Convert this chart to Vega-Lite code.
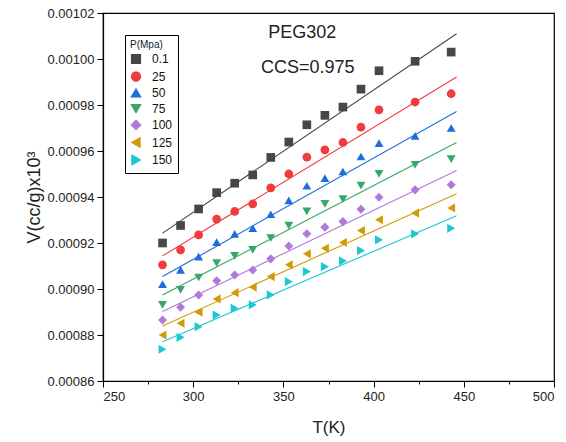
{
  "$schema": "https://vega.github.io/schema/vega-lite/v6.json",
  "width": 451,
  "height": 368,
  "autosize": {"type": "none"},
  "padding": {"left": 103, "top": 13, "right": 12, "bottom": 61},
  "background": "white",
  "config": {
    "view": {"stroke": "black", "strokeWidth": 1.2},
    "font": "Liberation Sans",
    "axis": {"labelFont": "Liberation Sans", "titleFont": "Liberation Sans", "titleFontWeight": "normal", "domainColor": "black", "tickColor": "black", "labelColor": "#222", "titleColor": "#222", "grid": false, "domainWidth": 1.2, "tickWidth": 1},
    "legend": {
      "labelFont": "Liberation Sans", "titleFont": "Liberation Sans",
      "titleFontSize": 10, "titleFontWeight": "normal", "titleColor": "#123", "titlePadding": 3,
      "labelFontSize": 12, "labelColor": "#111", "symbolSize": 65, "labelOffset": 10,
      "strokeColor": "black", "fillColor": "white", "padding": 5, "rowPadding": 1.5, "symbolOpacity": 1
    }
  },
  "datasets": {
    "pts": [
      {"T": 283, "V": 0.000920, "P": "0.1"}, {"T": 293, "V": 0.0009276, "P": "0.1"}, {"T": 303, "V": 0.0009348, "P": "0.1"}, {"T": 313, "V": 0.0009419, "P": "0.1"}, {"T": 323, "V": 0.000946, "P": "0.1"}, {"T": 333, "V": 0.0009496, "P": "0.1"}, {"T": 343, "V": 0.0009572, "P": "0.1"}, {"T": 353, "V": 0.0009639, "P": "0.1"}, {"T": 363, "V": 0.0009714, "P": "0.1"}, {"T": 373, "V": 0.0009755, "P": "0.1"}, {"T": 383, "V": 0.0009791, "P": "0.1"}, {"T": 393, "V": 0.0009869, "P": "0.1"}, {"T": 403, "V": 0.0009949, "P": "0.1"}, {"T": 423, "V": 0.000999, "P": "0.1"}, {"T": 443, "V": 0.001003, "P": "0.1"},
      {"T": 283, "V": 0.0009105, "P": "25"}, {"T": 293, "V": 0.000917, "P": "25"}, {"T": 303, "V": 0.0009235, "P": "25"}, {"T": 313, "V": 0.0009304, "P": "25"}, {"T": 323, "V": 0.0009337, "P": "25"}, {"T": 333, "V": 0.000937, "P": "25"}, {"T": 343, "V": 0.000944, "P": "25"}, {"T": 353, "V": 0.00095, "P": "25"}, {"T": 363, "V": 0.0009573, "P": "25"}, {"T": 373, "V": 0.0009605, "P": "25"}, {"T": 383, "V": 0.0009637, "P": "25"}, {"T": 393, "V": 0.0009704, "P": "25"}, {"T": 403, "V": 0.0009779, "P": "25"}, {"T": 423, "V": 0.0009813, "P": "25"}, {"T": 443, "V": 0.0009849, "P": "25"},
      {"T": 283, "V": 0.0009021, "P": "50"}, {"T": 293, "V": 0.0009083, "P": "50"}, {"T": 303, "V": 0.0009141, "P": "50"}, {"T": 313, "V": 0.0009204, "P": "50"}, {"T": 323, "V": 0.000924, "P": "50"}, {"T": 333, "V": 0.0009264, "P": "50"}, {"T": 343, "V": 0.0009325, "P": "50"}, {"T": 353, "V": 0.0009385, "P": "50"}, {"T": 363, "V": 0.0009449, "P": "50"}, {"T": 373, "V": 0.0009482, "P": "50"}, {"T": 383, "V": 0.0009511, "P": "50"}, {"T": 393, "V": 0.0009576, "P": "50"}, {"T": 403, "V": 0.0009634, "P": "50"}, {"T": 423, "V": 0.0009666, "P": "50"}, {"T": 443, "V": 0.00097, "P": "50"},
      {"T": 283, "V": 0.0008931, "P": "75"}, {"T": 293, "V": 0.0008996, "P": "75"}, {"T": 303, "V": 0.000905, "P": "75"}, {"T": 313, "V": 0.0009112, "P": "75"}, {"T": 323, "V": 0.0009144, "P": "75"}, {"T": 333, "V": 0.000917, "P": "75"}, {"T": 343, "V": 0.0009221, "P": "75"}, {"T": 353, "V": 0.0009276, "P": "75"}, {"T": 363, "V": 0.0009337, "P": "75"}, {"T": 373, "V": 0.000937, "P": "75"}, {"T": 383, "V": 0.0009391, "P": "75"}, {"T": 393, "V": 0.0009449, "P": "75"}, {"T": 403, "V": 0.0009501, "P": "75"}, {"T": 423, "V": 0.000954, "P": "75"}, {"T": 443, "V": 0.0009565, "P": "75"},
      {"T": 283, "V": 0.0008865, "P": "100"}, {"T": 293, "V": 0.0008921, "P": "100"}, {"T": 303, "V": 0.0008974, "P": "100"}, {"T": 313, "V": 0.0009036, "P": "100"}, {"T": 323, "V": 0.0009061, "P": "100"}, {"T": 333, "V": 0.0009083, "P": "100"}, {"T": 343, "V": 0.0009131, "P": "100"}, {"T": 353, "V": 0.0009187, "P": "100"}, {"T": 363, "V": 0.000924, "P": "100"}, {"T": 373, "V": 0.0009269, "P": "100"}, {"T": 383, "V": 0.0009293, "P": "100"}, {"T": 393, "V": 0.0009347, "P": "100"}, {"T": 403, "V": 0.0009399, "P": "100"}, {"T": 423, "V": 0.0009431, "P": "100"}, {"T": 443, "V": 0.0009453, "P": "100"},
      {"T": 283, "V": 0.00088, "P": "125"}, {"T": 293, "V": 0.0008851, "P": "125"}, {"T": 303, "V": 0.0008899, "P": "125"}, {"T": 313, "V": 0.0008957, "P": "125"}, {"T": 323, "V": 0.0008984, "P": "125"}, {"T": 333, "V": 0.0009008, "P": "125"}, {"T": 343, "V": 0.0009054, "P": "125"}, {"T": 353, "V": 0.0009105, "P": "125"}, {"T": 363, "V": 0.0009153, "P": "125"}, {"T": 373, "V": 0.0009177, "P": "125"}, {"T": 383, "V": 0.0009202, "P": "125"}, {"T": 393, "V": 0.0009254, "P": "125"}, {"T": 403, "V": 0.0009301, "P": "125"}, {"T": 423, "V": 0.000933, "P": "125"}, {"T": 443, "V": 0.0009352, "P": "125"},
      {"T": 283, "V": 0.0008738, "P": "150"}, {"T": 293, "V": 0.000879, "P": "150"}, {"T": 303, "V": 0.0008836, "P": "150"}, {"T": 313, "V": 0.0008887, "P": "150"}, {"T": 323, "V": 0.0008916, "P": "150"}, {"T": 333, "V": 0.0008931, "P": "150"}, {"T": 343, "V": 0.0008974, "P": "150"}, {"T": 353, "V": 0.0009032, "P": "150"}, {"T": 363, "V": 0.0009076, "P": "150"}, {"T": 373, "V": 0.0009097, "P": "150"}, {"T": 383, "V": 0.0009122, "P": "150"}, {"T": 393, "V": 0.0009167, "P": "150"}, {"T": 403, "V": 0.0009214, "P": "150"}, {"T": 423, "V": 0.000924, "P": "150"}, {"T": 443, "V": 0.0009264, "P": "150"}
    ],
    "fits": [
      {"T": 283, "V": 0.0009243, "P": "0.1"}, {"T": 446, "V": 0.001011, "P": "0.1"},
      {"T": 283, "V": 0.0009144, "P": "25"}, {"T": 446, "V": 0.0009922, "P": "25"},
      {"T": 283, "V": 0.0009054, "P": "50"}, {"T": 446, "V": 0.0009772, "P": "50"},
      {"T": 283, "V": 0.0008974, "P": "75"}, {"T": 446, "V": 0.0009637, "P": "75"},
      {"T": 283, "V": 0.0008902, "P": "100"}, {"T": 446, "V": 0.0009515, "P": "100"},
      {"T": 283, "V": 0.0008839, "P": "125"}, {"T": 446, "V": 0.0009414, "P": "125"},
      {"T": 283, "V": 0.0008771, "P": "150"}, {"T": 446, "V": 0.0009318, "P": "150"}
    ],
    "notes": [
      {"T": 360.5, "V": 0.0010114, "txt": "PEG302"},
      {"T": 363.5, "V": 0.0009961, "txt": "CCS=0.975"}
    ]
  },
  "layer": [
    {
      "data": {"name": "pts"},
      "mark": {"type": "point", "filled": true, "opacity": 1},
      "encoding": {
        "x": {
          "field": "T", "type": "quantitative",
          "scale": {"domain": [250, 500], "nice": false, "zero": false},
          "axis": {
            "title": "T(K)", "titleFontSize": 17, "titlePadding": 16,
            "values": [250, 275, 300, 325, 350, 375, 400, 425, 450, 475, 500],
            "labelExpr": "datum.value % 50 === 0 ? datum.label : ''",
            "labelFontSize": 13, "labelPadding": 3,
            "tickSize": {"condition": {"test": "datum.value % 50 === 0", "value": 6}, "value": 3}
          }
        },
        "y": {
          "field": "V", "type": "quantitative",
          "scale": {"domain": [0.00086, 0.00102], "nice": false, "zero": false},
          "axis": {
            "title": "V(cc/g)x10³", "titleFontSize": 18, "titlePadding": 4,
            "values": [0.00086, 0.00087, 0.00088, 0.00089, 0.0009, 0.00091, 0.00092, 0.00093, 0.00094, 0.00095, 0.00096, 0.00097, 0.00098, 0.00099, 0.001, 0.00101, 0.00102],
            "format": ".5f",
            "labelExpr": "round(datum.value * 100000) % 2 === 0 ? datum.label : ''",
            "labelFontSize": 13, "labelPadding": 3,
            "tickSize": {"condition": {"test": "round(datum.value * 100000) % 2 === 0", "value": 6}, "value": 3}
          }
        },
        "size": {
          "field": "P", "type": "nominal", "legend": null,
          "scale": {"domain": ["0.1", "25", "50", "75", "100", "125", "150"], "range": [75, 85, 110, 110, 90, 110, 110]}
        },
        "color": {
          "field": "P", "type": "nominal",
          "scale": {"domain": ["0.1", "25", "50", "75", "100", "125", "150"], "range": ["#474747", "#f03c3c", "#1f6ddc", "#37a86a", "#b07ad9", "#d39a08", "#1cc8d2"]},
          "legend": {"title": "P(Mpa)", "orient": "none", "legendX": 22, "legendY": 22}
        },
        "shape": {
          "field": "P", "type": "nominal",
          "scale": {"domain": ["0.1", "25", "50", "75", "100", "125", "150"], "range": ["square", "circle", "triangle-up", "triangle-down", "diamond", "triangle-left", "triangle-right"]},
          "legend": {"title": "P(Mpa)", "orient": "none", "legendX": 22, "legendY": 22}
        }
      }
    },
    {
      "data": {"name": "fits"},
      "mark": {"type": "line", "strokeWidth": 1.1},
      "encoding": {
        "x": {"field": "T", "type": "quantitative"},
        "y": {"field": "V", "type": "quantitative"},
        "color": {"field": "P", "type": "nominal"}
      }
    },
    {
      "data": {"name": "notes"},
      "mark": {"type": "text", "fontSize": 18, "color": "#222"},
      "encoding": {
        "x": {"field": "T", "type": "quantitative"},
        "y": {"field": "V", "type": "quantitative"},
        "text": {"field": "txt"}
      }
    }
  ]
}
